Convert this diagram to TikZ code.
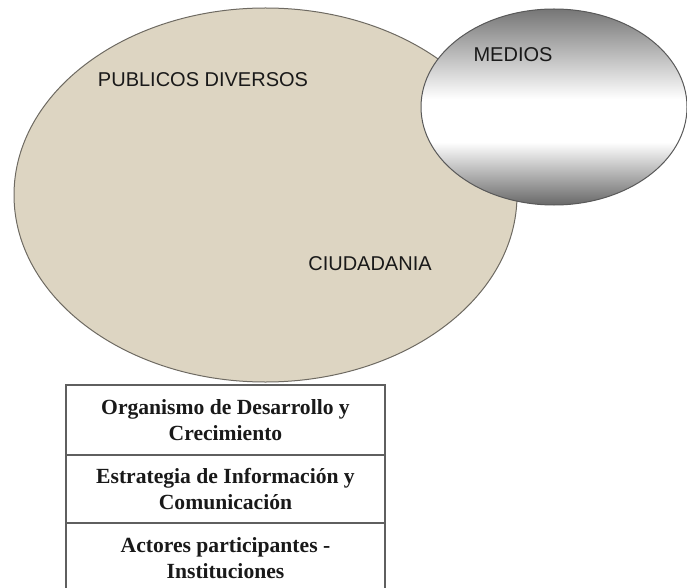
\documentclass[tikz,border=0pt]{standalone}
\usepackage{fontspec}
\setmainfont{Liberation Serif}
\newfontfamily\arialf{Liberation Sans}
\definecolor{beige}{RGB}{221,213,194}
\definecolor{beigeline}{RGB}{110,106,98}
\definecolor{gtop}{RGB}{118,118,118}
\definecolor{gbot}{RGB}{104,104,104}
\definecolor{boxline}{RGB}{95,95,95}
\definecolor{txt}{RGB}{25,25,25}
\pgfdeclareverticalshading{mediosshade}{100bp}{color(0bp)=(gbot); color(25bp)=(gbot); color(41bp)=(white); color(52bp)=(white); color(75bp)=(gtop); color(100bp)=(gtop)}
\tikzset{
  lbl/.style={font=\arialf\fontsize{20}{22}\selectfont, text=txt, inner sep=0pt},
  rowbox/.style={draw=boxline, line width=1.2pt, fill=white, minimum width=319pt, text=txt,
    align=center, inner sep=0pt, font=\bfseries\fontsize{21.6}{26}\selectfont},
}
\begin{document}
\begin{tikzpicture}[x=1pt,y=-1pt]
\useasboundingbox (0,0) rectangle (687,588);
\clip (0,0) rectangle (687,588);
% big ellipse
\draw[fill=beige, draw=beigeline, line width=1pt] (265.5,195) ellipse [x radius=251.5, y radius=187];
% medios ellipse
\shade[shading=mediosshade] (554,107) ellipse [x radius=133, y radius=98];
\draw[draw=black!65, line width=1pt] (554,107) ellipse [x radius=133, y radius=98];
% labels
\node[lbl] (pub) at (203,80) {PUBLICOS DIVERSOS};
\node[lbl] (med) at (513,55) {MEDIOS};
\node[lbl] (ciu) at (370,264) {CIUDADANIA};
% boxes
\node[rowbox, minimum height=70pt] (r1) at (225.5,420) {Organismo de Desarrollo y\\Crecimiento};
\node[rowbox, minimum height=68pt] (r2) at (225.5,489) {Estrategia de Información y\\Comunicación};
\node[rowbox, minimum height=70pt] (r3) at (225.5,558) {Actores participantes -\\Instituciones};
\end{tikzpicture}
\end{document}
